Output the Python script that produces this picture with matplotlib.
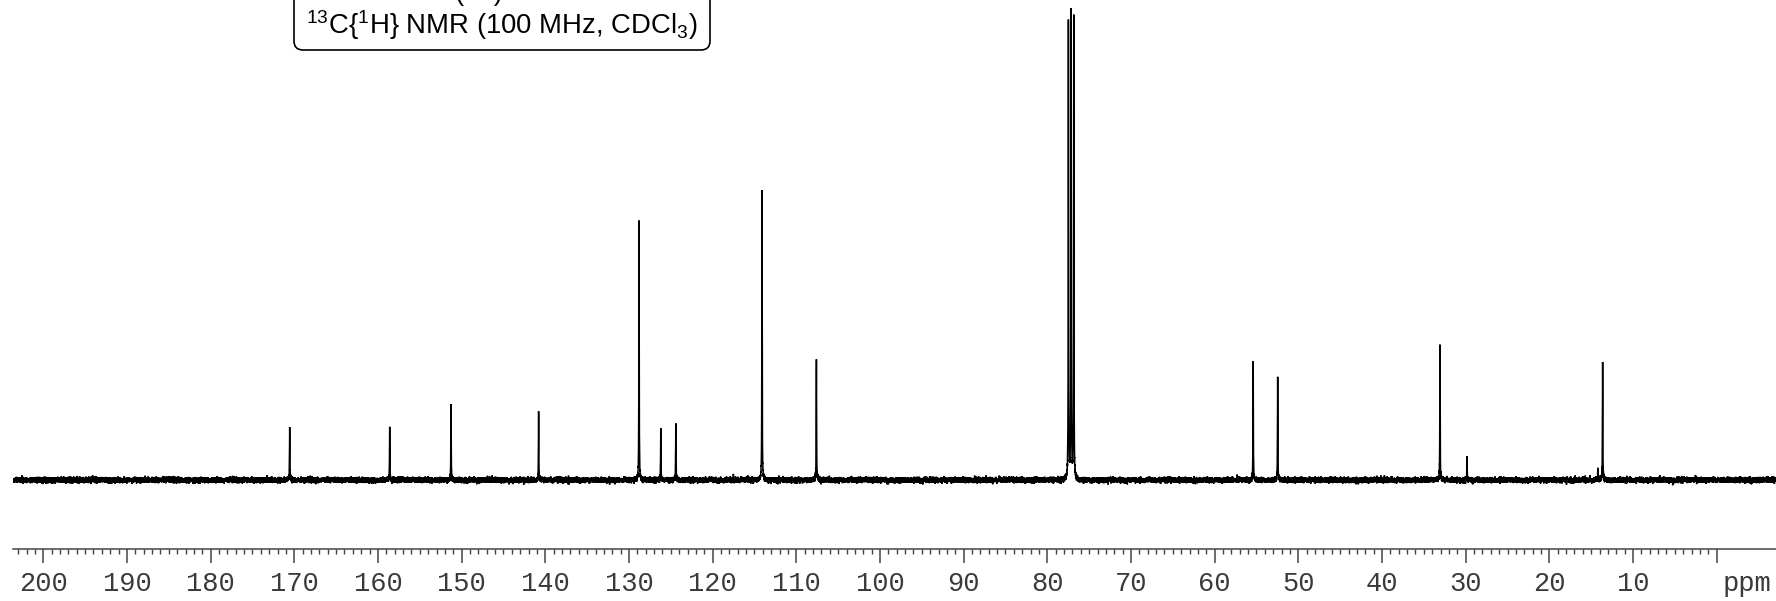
import numpy as np
import matplotlib
matplotlib.use("Agg")
import matplotlib.pyplot as plt
from matplotlib.patches import FancyBboxPatch
from matplotlib.transforms import ScaledTranslation

# Peak list: chemical shift (ppm) and peak height (baseline = 0)
shifts = [170.55, 158.60, 151.27, 140.80, 128.80, 126.20, 124.40, 114.10,
          107.60, 77.48, 77.16, 76.84, 55.40, 52.47, 33.07, 29.84, 14.20, 13.63]
heights = [52.7, 53.7, 74.3, 67.7, 258.3, 48.7, 57.0, 291.7,
           120.7, 458.0, 468.0, 463.0, 118.3, 103.3, 135.0, 22.0, 8.0, 116.7]

tick_values = list(range(200, -1, -10))
tick_labels = [str(v) if v > 0 else "" for v in tick_values]
axis_unit = "ppm"
title_text = r"$^{13}$C{$^{1}$H} NMR (100 MHz, CDCl$_{3}$)"

W, H, DPI = 1776, 601, 100
x_left, x_right = 203.62, -7.09

# Spectrum trace built from the peak list with Lorentzian lines
ppm = np.linspace(x_left, x_right, 60000)
hwhm = 0.022
spec = np.zeros_like(ppm)
for s, h in zip(shifts, heights):
    spec += h / (1.0 + ((ppm - s) / hwhm) ** 2)
rng = np.random.default_rng(11)
spec += rng.normal(0.0, 1.25, ppm.size)

fig = plt.figure(figsize=(W / DPI, H / DPI), dpi=DPI)
fig.patch.set_facecolor("white")

axis_y_px = 549.3
left_px = 13.0
ax = fig.add_axes([left_px / W, (H - axis_y_px) / H, 1 - left_px / W, axis_y_px / H])
ax.plot(ppm, spec, color="black", lw=1.1, solid_joinstyle="miter")
ax.set_xlim(x_left, x_right)
ax.set_ylim(-69.3, 480.0)

for side in ("top", "left", "right"):
    ax.spines[side].set_visible(False)
ax.spines["bottom"].set_color("#444444")
ax.spines["bottom"].set_linewidth(1.1)
ax.set_yticks([])
ax.set_facecolor("none")

major_len, major_pad = 10.1, 5.5
ax.set_xticks(tick_values)
ax.set_xticklabels(tick_labels)
ax.set_xticks(np.arange(0, 204, 1), minor=True)
ax.tick_params(axis="x", which="major", direction="out", length=major_len,
               width=1.1, color="#444444", pad=major_pad, labelsize=19.5,
               labelcolor="#3a3a3a")
ax.tick_params(axis="x", which="minor", direction="out", length=3.4,
               width=1.0, color="#444444")
for lbl in ax.get_xticklabels():
    lbl.set_fontfamily("Liberation Mono")

# Unit label placed in line with the tick labels
unit_tr = ax.get_xaxis_transform() + ScaledTranslation(
    0, -(major_len + major_pad) / 72.0, fig.dpi_scale_trans)
ax.text(-3.6, 0.0, axis_unit, transform=unit_tr, ha="center", va="top",
        fontsize=19.5, family="Liberation Mono", color="#3a3a3a")

# Overlay in pixel units for the annotation box
ov = fig.add_axes([0, 0, 1, 1])
ov.set_xlim(0, W)
ov.set_ylim(H, 0)
ov.axis("off")
ov.patch.set_visible(False)

plt.rcParams["mathtext.default"] = "regular"
box = FancyBboxPatch((294, -60), 416, 110,
                     boxstyle="round,pad=0,rounding_size=9",
                     fc="white", ec="black", lw=1.2)
ov.add_patch(box)
ov.text(502, 25.5, title_text, ha="center", va="center", fontsize=19.8,
        family="Liberation Sans", color="black")
ov.text(479, -7, "(3a)", ha="center", va="center", fontsize=19.8,
        family="Liberation Sans", color="black")

fig.savefig("out.png", dpi=DPI, facecolor="white")
